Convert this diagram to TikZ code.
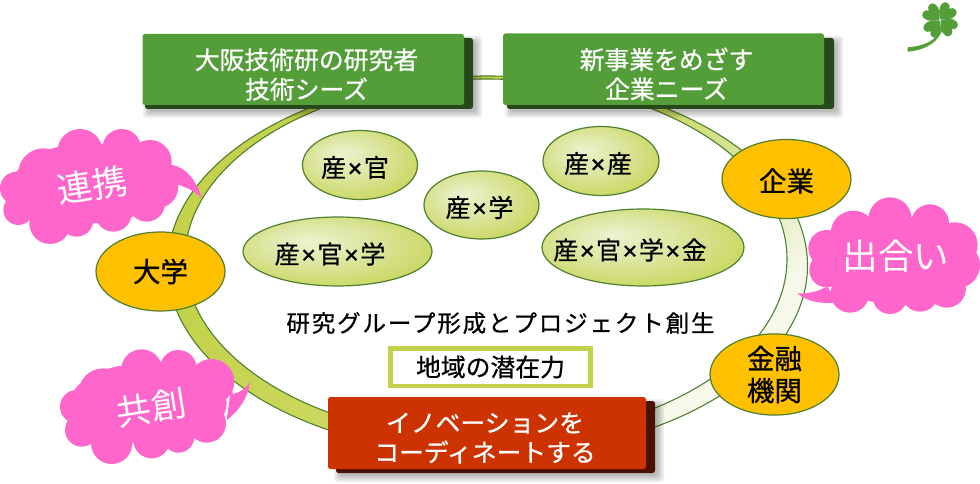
\documentclass[tikz,border=0pt]{standalone}
\usepackage{fontspec}
\usetikzlibrary{shapes.geometric}
\setmainfont{Noto Sans CJK JP}
\newfontfamily\jpb[FakeBold=0.7]{Noto Sans CJK JP}
\newfontfamily\jps[FakeBold=0.7,LetterSpace=8]{Noto Sans CJK JP}
\newfontfamily\tmf[FakeBold=1]{Liberation Sans}
\newcommand{\ktimes}{\kern1.6pt{\tmf ×}\kern1.6pt}
\newcommand{\plab}[2]{\raisebox{-12pt}[0pt][0pt]{\makebox[0pt]{#2\hspace*{#1pt}}}}
\definecolor{ringline}{HTML}{4F7F2F}
\definecolor{boxgreen}{HTML}{549E39}
\definecolor{boxgreendark}{HTML}{27481A}
\definecolor{boxred}{HTML}{CC3300}
\definecolor{boxreddark}{HTML}{4A1000}
\definecolor{cloudpink}{HTML}{FF66CC}
\definecolor{amber}{HTML}{FFC000}
\definecolor{olive}{HTML}{C3D24A}
\definecolor{ringb}{HTML}{CAD85E}
\definecolor{ringc}{HTML}{E2EAB8}
\definecolor{ringd}{HTML}{F6F9EA}
\definecolor{ella}{HTML}{EDF2CF}
\definecolor{ellb}{HTML}{DDE6A2}
\pgfdeclarehorizontalshading{ringshade}{100bp}{color(0bp)=(olive); color(32bp)=(olive); color(50bp)=(ringb); color(65bp)=(ringc); color(72bp)=(ringd); color(100bp)=(ringd)}
\pgfdeclareradialshading{ellshade}{\pgfpoint{-8bp}{8bp}}{color(0bp)=(ella); color(14bp)=(ellb); color(36bp)=(olive); color(50bp)=(olive)}
\tikzset{
  x=1pt,y=-1pt,
  pair/.style={ellipse,inner sep=0pt,draw=ringline,line width=1.2pt,shade,shading=ellshade,minimum width=#1,font=\jpb\fontsize{25}{30}\selectfont,text=black},
  actor/.style={ellipse,inner sep=0pt,draw=ringline,line width=1.2pt,fill=amber,minimum width=129pt,minimum height=79pt,align=center,font=\jpb\fontsize{27.5}{32}\selectfont,text=black},
  bigbox/.style={align=center,text=white,font=\jpb\fontsize{24.8}{29.5}\selectfont,inner sep=0pt},
  plate/.style={rounded corners=2.5pt},
  cloudtext/.style={text=white,font=\fontsize{#1}{#1}\selectfont,inner sep=0pt},
}
\newcommand{\softshadow}[4]{%
  \foreach \g in {0,1.5,3,4.5,6}{\fill[black,opacity=0.06,rounded corners=3pt] (#1-\g+4,#2-\g+4) rectangle (#3+\g+3,#4+\g+3);}}
\begin{document}
\begin{tikzpicture}
\useasboundingbox (0,0) rectangle (980,484);
% ring
\path[draw=ringline,line width=1.1pt,even odd rule,shade,shading=ringshade,shading angle=-45]
  (487.5,265.5) ellipse [x radius=320,y radius=189.5]
  (486,259) ellipse [x radius=301,y radius=180];
% boxes
\softshadow{145}{38}{473}{109}
\fill[boxgreendark,plate] (145,38) rectangle (473,109);
\fill[boxgreen,plate] (142.5,34) rectangle (464,105);
\softshadow{507}{38}{834}{109}
\fill[boxgreendark,plate] (507,38) rectangle (834,109);
\fill[boxgreen,plate] (503,33.5) rectangle (824,105);
\softshadow{336}{401}{655}{473}
\fill[boxreddark,plate] (336,401) rectangle (655,473);
\fill[boxred,plate] (328,397) rectangle (646,469);
\node[bigbox] (seeds) at (306.5,74.5) {大阪技術研の研究者\\技術シーズ};
\node[bigbox] (needs) at (666.5,74) {新事業をめざす\\企業ニーズ};
\node[bigbox] (inno) at (485,438) {イノベーションを\\コーディネートする};
% actors
\node[actor] (univ) at (160.5,271.5) {大学};
\node[actor] (corp) at (786.5,179) {\raisebox{-12.5pt}[0pt][0pt]{企業}};
\node[actor] (bank) at (774.5,374.5) {金融\\機関};
% pairs
\node[pair=115pt,minimum height=69pt] (p1) at (360,165) {\plab{10}{産\ktimes 官}};
\node[pair=115pt,minimum height=68pt] (p2) at (481.5,205) {\plab{4}{産\ktimes 学}};
\node[pair=116pt,minimum height=69pt] (p3) at (601,161) {\plab{6}{産\ktimes 産}};
\node[pair=189pt,minimum height=69pt] (p4) at (337.5,251.5) {\plab{15}{産\ktimes 官\ktimes 学}};
\node[pair=202pt,minimum height=77pt] (p5) at (643,247.5) {\plab{26}{産\ktimes 官\ktimes 学\ktimes 金}};
% captions
\node[inner sep=0pt,font=\jps\fontsize{23.5}{28}\selectfont] (cap) at (500.5,323) {研究グループ形成とプロジェクト創生};
\node[draw=olive,line width=4.5pt,fill=white,minimum width=200pt,minimum height=37.5pt,inner sep=0pt,font=\jpb\fontsize{24.8}{28}\selectfont] (pot) at (490.5,367) {地域の潜在力};
% cloud: renkei
\begin{scope}[shift={(0,120)},scale=1/3]
\fill[cloudpink] (50,205) circle (50) (130,160) circle (75) (240,95) circle (68) (365,85) circle (58) (450,125) circle (65) (470,200) circle (65) (440,250) circle (55) (340,280) circle (55) (230,300) circle (50) (150,310) circle (62) (55,270) circle (45) (270,190) ellipse [x radius=230,y radius=120];
\fill[cloudpink] (500,135) .. controls (550,130) and (590,180) .. (605,235) .. controls (580,210) and (550,195) .. (510,190) -- cycle;
\end{scope}
\node[cloudtext=35,rotate=9] (c1) at (92,185) {連携};
% cloud: deai
\begin{scope}[shift={(790,190)},scale=1/3]
\fill[cloudpink] (110,175) circle (55) (190,130) circle (68) (300,87) circle (65) (420,100) circle (57) (495,165) circle (68) (500,225) circle (70) (470,295) circle (58) (390,310) circle (55) (300,320) circle (52) (180,310) circle (58) (110,240) circle (52) (310,210) ellipse [x radius=230,y radius=130];
\fill[cloudpink] (110,290) .. controls (85,305) and (50,312) .. (22,310) .. controls (50,335) and (100,345) .. (150,335) -- cycle;
\end{scope}
\node[cloudtext=35.5] (c2) at (896,256) {出合い};
% cloud: kyoso
\begin{scope}[shift={(50,340)},scale=1/3]
\fill[cloudpink] (80,200) circle (50) (160,160) circle (75) (275,90) circle (62) (385,85) circle (55) (485,125) circle (68) (460,190) circle (70) (470,250) circle (58) (385,290) circle (48) (305,300) circle (55) (185,310) circle (62) (95,270) circle (50) (290,190) ellipse [x radius=230,y radius=120];
\fill[cloudpink] (545,130) -- (548,162) .. controls (570,158) and (590,145) .. (600,125) .. controls (595,170) and (570,210) .. (530,240) -- cycle;
\end{scope}
\node[cloudtext=35,rotate=9] (c3) at (151,408) {共創};
% clover
\begin{scope}[shift={(895,0)},scale=1/3]
\fill[boxgreen] (135,88) .. controls (125,120) and (90,138) .. (38,142) -- (38,155) .. controls (95,150) and (130,125) .. (143,88) -- cycle;
\foreach \a in {-40,50,140,232}{
\fill[boxgreen,shift={(135,60)},rotate=\a] (0,-2) .. controls (-10,-10) and (-29,-22) .. (-27,-42) .. controls (-25,-57) and (-5,-58) .. (0,-44) .. controls (5,-58) and (25,-57) .. (27,-42) .. controls (29,-22) and (10,-10) .. (0,-2) -- cycle;}
\end{scope}
\end{tikzpicture}
\end{document}
